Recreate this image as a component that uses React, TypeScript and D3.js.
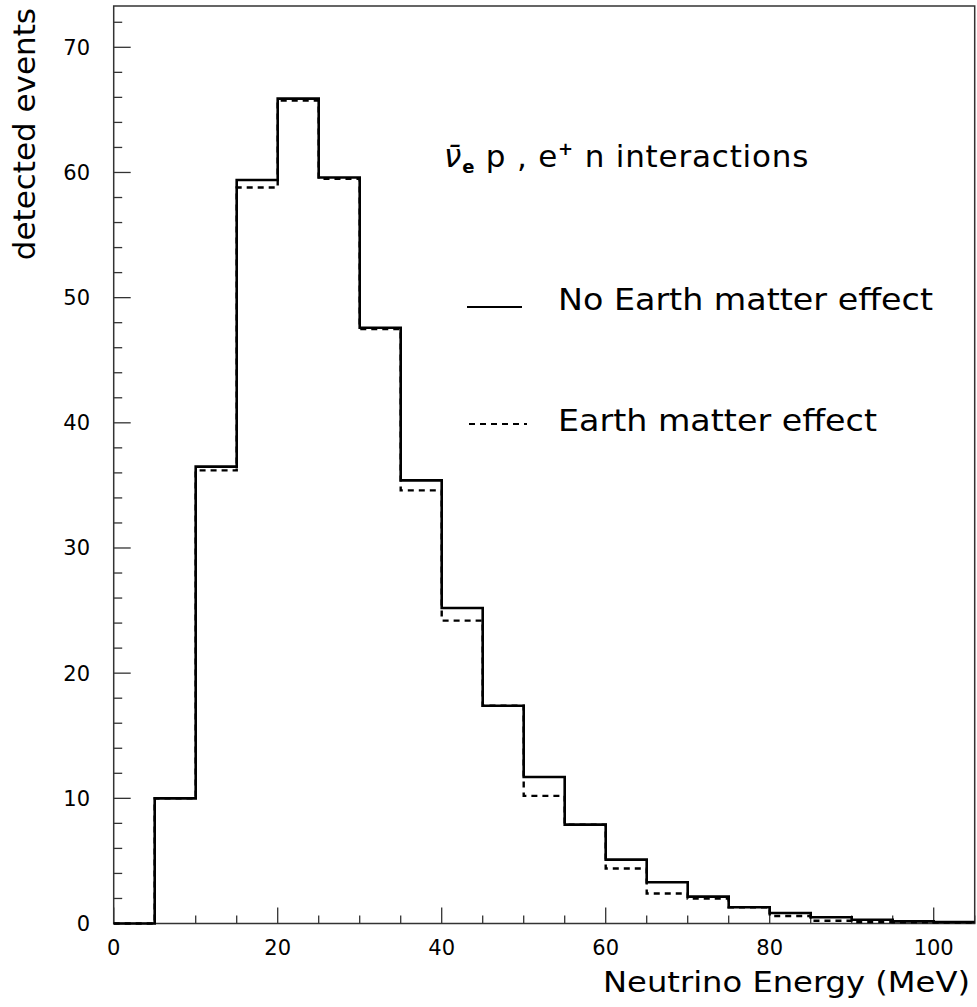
import React from "react";
import * as d3 from "d3";

const binEdges = [0, 5, 10, 15, 20, 25, 30, 35, 40, 45, 50, 55, 60, 65, 70, 75, 80, 85, 90, 95, 100, 105];
const noEarthEffect = [0, 10.0, 36.5, 59.4, 65.9, 59.6, 47.6, 35.4, 25.2, 17.4, 11.7, 7.9, 5.1, 3.3, 2.15, 1.3, 0.84, 0.5, 0.3, 0.17, 0.12];
const earthEffect = [0, 10.0, 36.2, 58.8, 65.75, 59.5, 47.5, 34.6, 24.2, 17.4, 10.2, 7.9, 4.4, 2.4, 2.0, 1.3, 0.6, 0.22, 0.12, 0.1, 0.08];
const xMajorTicks = [0, 20, 40, 60, 80, 100];
const yMajorTicks = [0, 10, 20, 30, 40, 50, 60, 70];
const xTitle = "Neutrino Energy (MeV)";
const yTitle = "detected events";
const legendLabels = ["No Earth matter effect", "Earth matter effect"];

const W = 977;
const H = 1007;
const FONT = "'DejaVu Sans', sans-serif";

export default function App() {
  const x = d3.scaleLinear().domain([0, 105]).range([113.7, 974.7]);
  const y = d3.scaleLinear().domain([0, 73.3]).range([923.5, 6]);

  const stepPath = (vals: number[]) => {
    const pts: [number, number][] = [];
    vals.forEach((v, i) => {
      pts.push([binEdges[i], v]);
      pts.push([binEdges[i + 1], v]);
    });
    const line = d3
      .line<[number, number]>()
      .x((d) => x(d[0]))
      .y((d) => y(d[1]));
    return line([[binEdges[0], 0], ...pts]) || "";
  };

  const xMinor = d3.range(0, 105.01, 5).filter((v) => v % 20 !== 0);
  const yMinor = d3.range(0, 73.3, 2).filter((v) => v % 10 !== 0);

  const axisColor = "#333";

  return (
    <svg
      width={W}
      height={H}
      style={{ position: "absolute", left: 0, top: 0, background: "#fff" }}
      fontFamily={FONT}
    >
      <rect x={0} y={0} width={W} height={H} fill="#fff" />
      <rect
        x={x(0)}
        y={y(73.3)}
        width={x(105) - x(0)}
        height={y(0) - y(73.3)}
        fill="none"
        stroke={axisColor}
        strokeWidth={1.5}
      />
      {xMajorTicks.map((t) => (
        <line key={"xM" + t} x1={x(t)} x2={x(t)} y1={y(0)} y2={y(0) - 16} stroke={axisColor} strokeWidth={1.3} />
      ))}
      {xMinor.map((t) => (
        <line key={"xm" + t} x1={x(t)} x2={x(t)} y1={y(0)} y2={y(0) - 8} stroke={axisColor} strokeWidth={1.3} />
      ))}
      {yMajorTicks.map((t) => (
        <line key={"yM" + t} x1={x(0)} x2={x(0) + 17} y1={y(t)} y2={y(t)} stroke={axisColor} strokeWidth={1.3} />
      ))}
      {yMinor.map((t) => (
        <line key={"ym" + t} x1={x(0)} x2={x(0) + 8.5} y1={y(t)} y2={y(t)} stroke={axisColor} strokeWidth={1.3} />
      ))}
      {xMajorTicks.map((t) => (
        <text key={"xl" + t} x={x(t)} y={955} fontSize={21} textAnchor="middle" fill="#000">
          {t}
        </text>
      ))}
      {yMajorTicks.map((t) => (
        <text key={"yl" + t} x={90} y={y(t) + 7.5} fontSize={21} textAnchor="end" fill="#000">
          {t}
        </text>
      ))}
      <text x={970} y={992} fontSize={29} textAnchor="end" fill="#000" textLength={367} lengthAdjust="spacingAndGlyphs">
        {xTitle}
      </text>
      <text transform="translate(35,8) rotate(-90)" fontSize={31} textAnchor="end" fill="#000">
        {yTitle}
      </text>
      <path d={stepPath(noEarthEffect)} fill="none" stroke="#000" strokeWidth={2.6} />
      <path d={stepPath(earthEffect)} fill="none" stroke="#000" strokeWidth={2.4} strokeDasharray="6,5" />
      <text x={444} y={167} fontSize={31} fill="#000" letterSpacing={0.8}>
        <tspan fontStyle="italic">ν̄</tspan>
        <tspan fontSize={18} fontWeight="bold" dy={6}>e</tspan>
        <tspan dy={-6}> p , e</tspan>
        <tspan fontSize={18} fontWeight="bold" dy={-12}>+</tspan>
        <tspan dy={12}> n interactions</tspan>
      </text>
      <line x1={467} x2={522} y1={307} y2={307} stroke="#000" strokeWidth={2.2} />
      <text x={558} y={310} fontSize={31} fill="#000" textLength={375} lengthAdjust="spacingAndGlyphs">
        {legendLabels[0]}
      </text>
      <line x1={469} x2={527} y1={424} y2={424} stroke="#000" strokeWidth={2.2} strokeDasharray="6,5" />
      <text x={558} y={431} fontSize={31} fill="#000" textLength={319} lengthAdjust="spacingAndGlyphs">
        {legendLabels[1]}
      </text>
    </svg>
  );
}
